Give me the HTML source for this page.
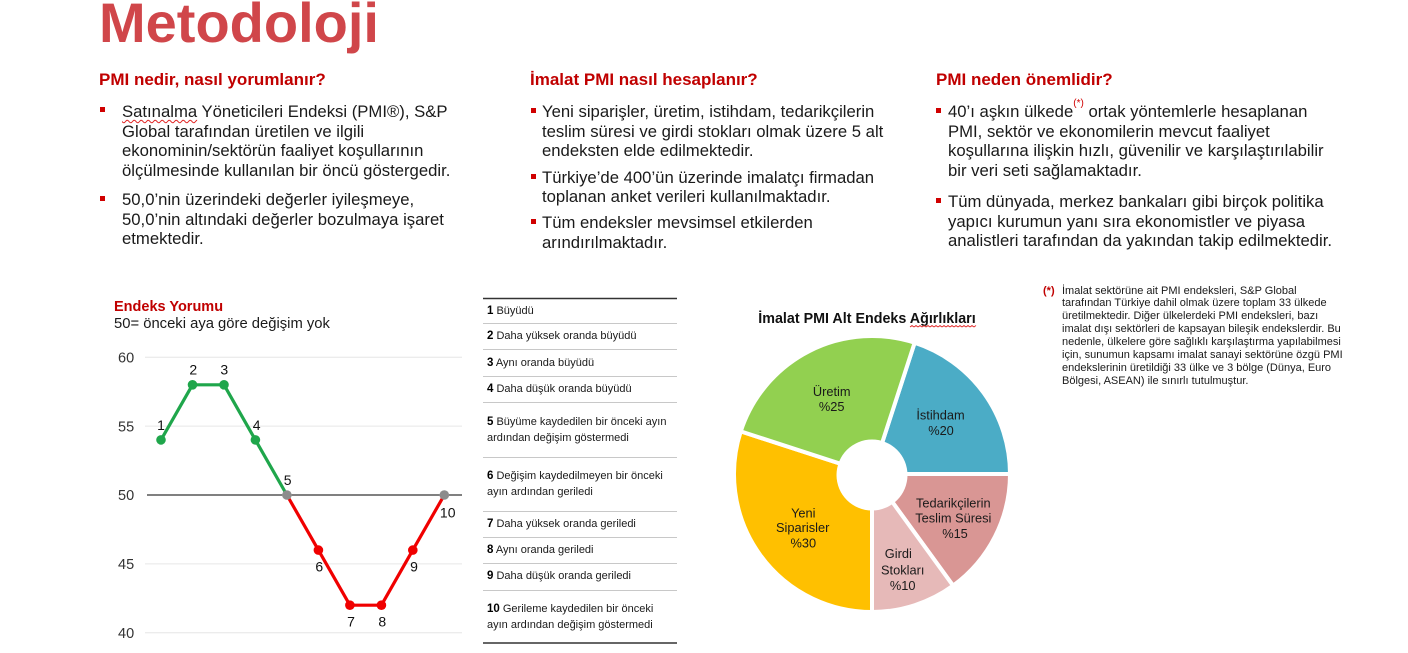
<!DOCTYPE html>
<html><head><meta charset="utf-8">
<style>
html,body{margin:0;padding:0;background:#fff;}
body{width:1408px;height:653px;position:relative;overflow:hidden;font-family:"Liberation Sans",sans-serif;color:#1a1a1a;}
.a{position:absolute;white-space:nowrap;}
.title{left:99px;top:-5px;font-size:56px;line-height:56px;font-weight:bold;color:#d0464a;}
.h{font-size:17px;line-height:20px;font-weight:bold;color:#c00000;}
.p{font-size:16.7px;line-height:19.7px;color:#1a1a1a;}
.sq{position:absolute;width:5px;height:5px;background:#d00000;}
.sup{font-size:10px;color:#d00000;vertical-align:top;line-height:0;position:relative;top:2px;}
.wavy{text-decoration:underline wavy #e02020;text-decoration-thickness:1px;text-underline-offset:2px;}
.tb{font-size:11px;line-height:16px;color:#1a1a1a;}
.tb b{font-size:11.5px;color:#000;}
.fn{font-size:11px;line-height:12.86px;letter-spacing:0;color:#1a1a1a;}
</style>
</head><body>

<div class="a title">Metodoloji</div>

<!-- Column 1 -->
<div class="a h" style="left:99px;top:70px;">PMI nedir, nasıl yorumlanır?</div>
<div class="sq" style="left:100px;top:107px;"></div>
<div class="a p" style="left:122px;top:101.8px;"><span class="wavy">Satınalma</span> Yöneticileri Endeksi (PMI®), S&amp;P<br>Global tarafından üretilen ve ilgili<br>ekonominin/sektörün faaliyet koşullarının<br>ölçülmesinde kullanılan bir öncü göstergedir.</div>
<div class="sq" style="left:100px;top:196px;"></div>
<div class="a p" style="left:122px;top:190px;">50,0’nin üzerindeki değerler iyileşmeye,<br>50,0’nin altındaki değerler bozulmaya işaret<br>etmektedir.</div>

<!-- Column 2 -->
<div class="a h" style="left:530px;top:70px;">İmalat PMI nasıl hesaplanır?</div>
<div class="sq" style="left:531px;top:108px;"></div>
<div class="a p" style="left:542px;top:101.8px;">Yeni siparişler, üretim, istihdam, tedarikçilerin<br>teslim süresi ve girdi stokları olmak üzere 5 alt<br>endeksten elde edilmektedir.</div>
<div class="sq" style="left:531px;top:174px;"></div>
<div class="a p" style="left:542px;top:167.5px;">Türkiye’de 400’ün üzerinde imalatçı firmadan<br>toplanan anket verileri kullanılmaktadır.</div>
<div class="sq" style="left:531px;top:219px;"></div>
<div class="a p" style="left:542px;top:212.8px;">Tüm endeksler mevsimsel etkilerden<br>arındırılmaktadır.</div>

<!-- Column 3 -->
<div class="a h" style="left:936px;top:70px;">PMI neden önemlidir?</div>
<div class="sq" style="left:936px;top:108px;"></div>
<div class="a p" style="left:948px;top:101.8px;">40’ı aşkın ülkede<span class="sup">(*)</span> ortak yöntemlerle hesaplanan<br>PMI, sektör ve ekonomilerin mevcut faaliyet<br>koşullarına ilişkin hızlı, güvenilir ve karşılaştırılabilir<br>bir veri seti sağlamaktadır.</div>
<div class="sq" style="left:936px;top:198px;"></div>
<div class="a p" style="left:948px;top:191.8px;">Tüm dünyada, merkez bankaları gibi birçok politika<br>yapıcı kurumun yanı sıra ekonomistler ve piyasa<br>analistleri tarafından da yakından takip edilmektedir.</div>

<!-- Footnote -->
<div class="a" style="left:1043px;top:284.6px;font-size:11px;line-height:12.86px;font-weight:bold;color:#c00000;">(*)</div>
<div class="a fn" style="left:1062px;top:284.6px;">İmalat sektörüne ait PMI endeksleri, S&amp;P Global<br>tarafından Türkiye dahil olmak üzere toplam 33 ülkede<br>üretilmektedir. Diğer ülkelerdeki PMI endeksleri, bazı<br>imalat dışı sektörleri de kapsayan bileşik endekslerdir. Bu<br>nedenle, ülkelere göre sağlıklı karşılaştırma yapılabilmesi<br>için, sunumun kapsamı imalat sanayi sektörüne özgü PMI<br>endekslerinin üretildiği 33 ülke ve 3 bölge (Dünya, Euro<br>Bölgesi, ASEAN) ile sınırlı tutulmuştur.</div>

<!-- Line chart titles -->
<div class="a" style="left:114px;top:298px;font-size:14.5px;line-height:18px;font-weight:bold;color:#c00000;">Endeks Yorumu</div>
<div class="a" style="left:114px;top:315px;font-size:14.8px;line-height:18px;color:#1a1a1a;">50= önceki aya göre değişim yok</div>

<!-- Table text -->
<div class="a tb" style="left:487px;top:303px;"><b>1</b> Büyüdü</div>
<div class="a tb" style="left:487px;top:328px;"><b>2</b> Daha yüksek oranda büyüdü</div>
<div class="a tb" style="left:487px;top:355px;"><b>3</b> Aynı oranda büyüdü</div>
<div class="a tb" style="left:487px;top:381px;"><b>4</b> Daha düşük oranda büyüdü</div>
<div class="a tb" style="left:487px;top:414px;"><b>5</b> Büyüme kaydedilen bir önceki ayın<br>ardından değişim göstermedi</div>
<div class="a tb" style="left:487px;top:468px;"><b>6</b> Değişim kaydedilmeyen bir önceki<br>ayın ardından geriledi</div>
<div class="a tb" style="left:487px;top:516px;"><b>7</b> Daha yüksek oranda geriledi</div>
<div class="a tb" style="left:487px;top:542px;"><b>8</b> Aynı oranda geriledi</div>
<div class="a tb" style="left:487px;top:568px;"><b>9</b> Daha düşük oranda geriledi</div>
<div class="a tb" style="left:487px;top:601px;"><b>10</b> Gerileme kaydedilen bir önceki<br>ayın ardından değişim göstermedi</div>

<svg class="a" style="left:0;top:0;" width="1408" height="653" viewBox="0 0 1408 653" xmlns="http://www.w3.org/2000/svg">
  <!-- Line chart grid -->
  <g stroke="#e6e6e6" stroke-width="1">
    <line x1="145" y1="357.2" x2="462" y2="357.2"/>
    <line x1="145" y1="426.1" x2="462" y2="426.1"/>
    <line x1="145" y1="563.9" x2="462" y2="563.9"/>
    <line x1="145" y1="632.8" x2="462" y2="632.8"/>
  </g>
  <line x1="147" y1="495" x2="462" y2="495" stroke="#000" stroke-width="1"/>
  <g font-family="Liberation Sans, sans-serif" font-size="14.5" fill="#333">
    <text x="118" y="362.4">60</text>
    <text x="118" y="431.3">55</text>
    <text x="118" y="500.2">50</text>
    <text x="118" y="569.1">45</text>
    <text x="118" y="638">40</text>
  </g>
  <polyline points="161,439.9 192.5,384.8 224,384.8 255.4,439.9 286.9,495" fill="none" stroke="#1fa64b" stroke-width="3.2" stroke-linejoin="round"/>
  <polyline points="286.9,495 318.4,550.1 349.9,605.2 381.4,605.2 412.8,550.1 444.3,495" fill="none" stroke="#f00000" stroke-width="3.2" stroke-linejoin="round"/>
  <g fill="#1fa64b">
    <circle cx="161" cy="439.9" r="4.8"/>
    <circle cx="192.5" cy="384.8" r="4.8"/>
    <circle cx="224" cy="384.8" r="4.8"/>
    <circle cx="255.4" cy="439.9" r="4.8"/>
  </g>
  <g fill="#f00000">
    <circle cx="318.4" cy="550.1" r="4.8"/>
    <circle cx="349.9" cy="605.2" r="4.8"/>
    <circle cx="381.4" cy="605.2" r="4.8"/>
    <circle cx="412.8" cy="550.1" r="4.8"/>
  </g>
  <g fill="#8c8c8c">
    <circle cx="286.9" cy="495" r="4.8"/>
    <circle cx="444.3" cy="495" r="4.8"/>
  </g>
  <g font-family="Liberation Sans, sans-serif" font-size="14" fill="#111" text-anchor="middle">
    <text x="161" y="430">1</text>
    <text x="193.3" y="374.3">2</text>
    <text x="224.3" y="374.3">3</text>
    <text x="256.7" y="430">4</text>
    <text x="287.7" y="485">5</text>
    <text x="319.3" y="571.7">6</text>
    <text x="351" y="626.7">7</text>
    <text x="382.3" y="626.7">8</text>
    <text x="414" y="571.7">9</text>
    <text x="447.7" y="517.3">10</text>
  </g>

  <!-- Table lines -->
  <line x1="483" y1="298.5" x2="677" y2="298.5" stroke="#333" stroke-width="1.5"/>
  <g stroke="#c8c8c8" stroke-width="1">
    <line x1="483" y1="323.5" x2="677" y2="323.5"/>
    <line x1="483" y1="349.5" x2="677" y2="349.5"/>
    <line x1="483" y1="376.5" x2="677" y2="376.5"/>
    <line x1="483" y1="402.5" x2="677" y2="402.5"/>
    <line x1="483" y1="457.5" x2="677" y2="457.5"/>
    <line x1="483" y1="511.5" x2="677" y2="511.5"/>
    <line x1="483" y1="537.5" x2="677" y2="537.5"/>
    <line x1="483" y1="563.5" x2="677" y2="563.5"/>
    <line x1="483" y1="590.5" x2="677" y2="590.5"/>
  </g>
  <line x1="483" y1="643" x2="677" y2="643" stroke="#333" stroke-width="1.5"/>

  <!-- Pie -->
  <text x="867" y="323" font-family="Liberation Sans, sans-serif" font-size="14.3" font-weight="bold" fill="#111" text-anchor="middle">İmalat PMI Alt Endeks Ağırlıkları</text>
  <polyline points="910,327 912,325.5 914,327 916,325.5 918,327 920,325.5 922,327 924,325.5 926,327 928,325.5 930,327 932,325.5 934,327 936,325.5 938,327 940,325.5 942,327 944,325.5 946,327 948,325.5 950,327 952,325.5 954,327 956,325.5 958,327 960,325.5 962,327 964,325.5 966,327 968,325.5 970,327 972,325.5 974,327 976,325.5" fill="none" stroke="#e02020" stroke-width="0.8"/>
  <g stroke="#fff" stroke-width="4" stroke-linejoin="round">
    <path d="M872,474 L914.64,342.75 A138,138 0 0 1 1010,474 Z" fill="#4bacc6"/>
    <path d="M872,474 L1010,474 A138,138 0 0 1 953.11,585.64 Z" fill="#d99694"/>
    <path d="M872,474 L953.11,585.64 A138,138 0 0 1 872,612 Z" fill="#e6b9b8"/>
    <path d="M872,474 L872,612 A138,138 0 0 1 740.75,431.36 Z" fill="#ffc000"/>
    <path d="M872,474 L740.75,431.36 A138,138 0 0 1 914.64,342.75 Z" fill="#92d050"/>
  </g>
  <circle cx="872" cy="475" r="35.5" fill="#fff"/>
  <g font-family="Liberation Sans, sans-serif" font-size="12.8" fill="#1a1a1a" text-anchor="middle">
    <text x="831.7" y="396.2">Üretim</text>
    <text x="831.7" y="411">%25</text>
    <text x="940.5" y="419.5">İstihdam</text>
    <text x="941" y="435.2">%20</text>
    <text x="953.3" y="507.5">Tedarikçilerin</text>
    <text x="953.3" y="522.5">Teslim Süresi</text>
    <text x="955" y="538">%15</text>
    <text x="898.3" y="558">Girdi</text>
    <text x="902.7" y="574.5">Stokları</text>
    <text x="902.7" y="590.2">%10</text>
    <text x="803.3" y="517.5">Yeni</text>
    <text x="802.7" y="532.2">Siparisler</text>
    <text x="803.3" y="547.5">%30</text>
  </g>
</svg>
</body></html>
